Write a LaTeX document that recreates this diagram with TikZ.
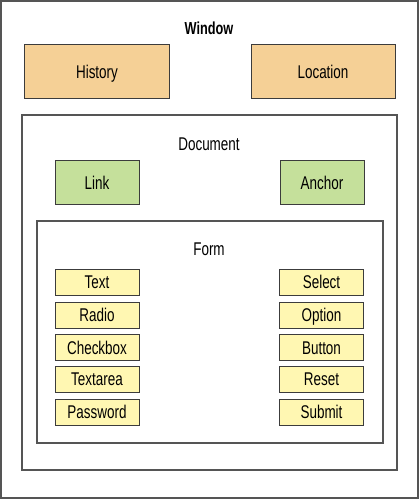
\documentclass[tikz,border=0pt]{standalone}
\usepackage{fontspec}
\setmainfont{Liberation Sans}[FakeStretch=0.73]
\usetikzlibrary{positioning}

\definecolor{frameline}{HTML}{555555}
\definecolor{boxline}{HTML}{3C3C3C}
\definecolor{histfill}{HTML}{F5D096}
\definecolor{docfill}{HTML}{C5E09B}
\definecolor{formfill}{HTML}{FFF7B2}

\tikzset{
  label text/.style={font=\fontsize{18.5}{22}\selectfont,text height=13.2bp,text depth=0pt},
  frame/.style={draw=frameline,line width=1.2bp,inner sep=0pt},
  winobj/.style={label text,draw=boxline,fill=histfill,line width=1bp,inner sep=0pt,
    minimum width=144bp,minimum height=54bp},
  docobj/.style={label text,draw=boxline,fill=docfill,line width=1bp,inner sep=0pt,
    minimum width=84bp,minimum height=43bp},
  formobj/.style={label text,draw=boxline,fill=formfill,line width=1bp,inner sep=0pt,
    minimum width=84bp,minimum height=26bp},
  title/.style={label text}
}

\begin{document}
\begin{tikzpicture}[x=1bp,y=-1bp]
  \useasboundingbox (0,0) rectangle (419,500);

  % Window
  \node[frame,minimum width=417bp,minimum height=497bp] (window) at (209.5,249.5) {};
  \node[title,font=\fontsize{17.5}{21}\selectfont\bfseries] (windowlbl) at (209,28) {Window};
  \node[winobj] (history) at (97,72) {History};
  \node[winobj] (location) at (323,72) {Location};

  % Document
  \node[frame,minimum width=375bp,minimum height=355bp] (document) at (209.5,292.5) {};
  \node[title] (documentlbl) at (209,144) {Document};
  \node[docobj] (link) at (97,182.5) {Link};
  \node[docobj] (anchor) at (322,182.5) {Anchor};

  % Form
  \node[frame,minimum width=346bp,minimum height=222bp] (form) at (210,332) {};
  \node[title] (formlbl) at (209,249) {Form};
  \foreach \name/\txt/\y in {text/Text/282,radio/Radio/315,checkbox/Checkbox/347.5,
                             textarea/Textarea/379,password/Password/412}
    \node[formobj] (\name) at (97,\y) {\txt};
  \foreach \name/\txt/\y in {select/Select/282,option/Option/315,button/Button/347.5,
                             reset/Reset/379,submit/Submit/412}
    \node[formobj] (\name) at (321.5,\y) {\txt};
\end{tikzpicture}
\end{document}
